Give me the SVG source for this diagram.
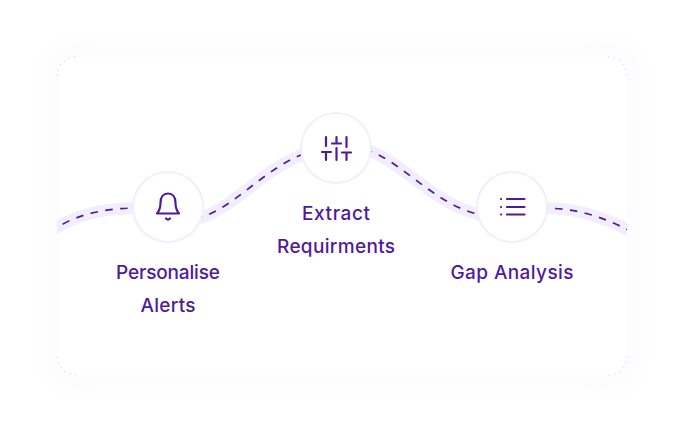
<svg xmlns="http://www.w3.org/2000/svg" width="684" height="432" viewBox="0 0 684 432">
<style>
.lbl{font-family:"Inter","Liberation Sans",sans-serif;font-size:19px;font-weight:500;fill:#4f1a9e;text-anchor:middle}
.node{fill:#fff;stroke:#f3eefe;stroke-width:2}
.ic{fill:none;stroke:#4f1a9e;stroke-width:2.200;stroke-linecap:round;stroke-linejoin:round}
.corner{fill:none;stroke:#d9cdf5;stroke-width:1;stroke-dasharray:1.500 4}
.band{fill:none;stroke:#f3eefe;stroke-width:12}
.dash{fill:none;stroke:#4f1a9e;stroke-width:1.700;stroke-dasharray:7.500 7.500}
</style>
<defs>
<filter id="sh" x="-20%" y="-20%" width="140%" height="140%"><feGaussianBlur stdDeviation="14"/></filter>
<clipPath id="card"><rect x="57" y="57" width="570" height="318" rx="19"/></clipPath>
</defs>
<rect width="684" height="432" fill="#fff"/>
<rect x="45" y="45" width="594" height="342" rx="26" fill="#fcfbfd" filter="url(#sh)"/>
<rect x="57" y="57" width="570" height="318" rx="19" fill="#fff"/>
<path class="corner" d="M57 76A19 19 0 0 1 76 57M608 57A19 19 0 0 1 627 76M627 356A19 19 0 0 1 608 375M76 375A19 19 0 0 1 57 356"/>
<g id="connectors" clip-path="url(#card)">
<path class="band" d="M50 232C70 218 95 208 140 208"/>
<path class="band" d="M195 219C235 210 265 165 310 152"/>
<path class="band" d="M365 149C405 162 440 212 490 216"/>
<path class="band" d="M540 208C575 208 600 215 634 233"/>
<path class="dash" d="M50 232C70 218 95 208 140 208"/>
<path class="dash" d="M195 219C235 210 265 165 310 152"/>
<path class="dash" d="M365 149C405 162 440 212 490 216"/>
<path class="dash" d="M540 208C575 208 600 215 634 233"/>
</g>
<g id="node-alerts">
<circle class="node" cx="168" cy="207" r="35"/>
<path class="ic" d="M157 213.500C160 210 160.500 207 160.500 203C160.500 197 163.500 193.500 168 193.500C172.500 193.500 175.500 197 175.500 203C175.500 207 176 210 179 213.500Z"/>
<path class="ic" d="M166 218.500Q168 220.500 170 218.500"/>
<text class="lbl" x="168" y="279" textLength="104">Personalise</text>
<text class="lbl" x="168" y="312" textLength="55">Alerts</text>
</g>
<g id="node-extract">
<circle class="node" cx="336" cy="148" r="35"/>
<path class="ic" d="M326 137V146M326 153V160M322 152H331M336.500 137V143M332 143.500H341M336.500 148V160M346.500 137V147M342 152.500H351M346.500 153V160"/>
<text class="lbl" x="336" y="220" textLength="68">Extract</text>
<text class="lbl" x="336" y="253" textLength="118">Requirments</text>
</g>
<g id="node-gap">
<circle class="node" cx="512" cy="207" r="35"/>
<path class="ic" d="M507 199H524.500M507 207H524.500M507 214.500H524.500"/>
<path class="ic" d="M501 199H501.100M501 207H501.100M501 214.500H501.100"/>
<text class="lbl" x="512" y="279" textLength="123">Gap Analysis</text>
</g>
</svg>
